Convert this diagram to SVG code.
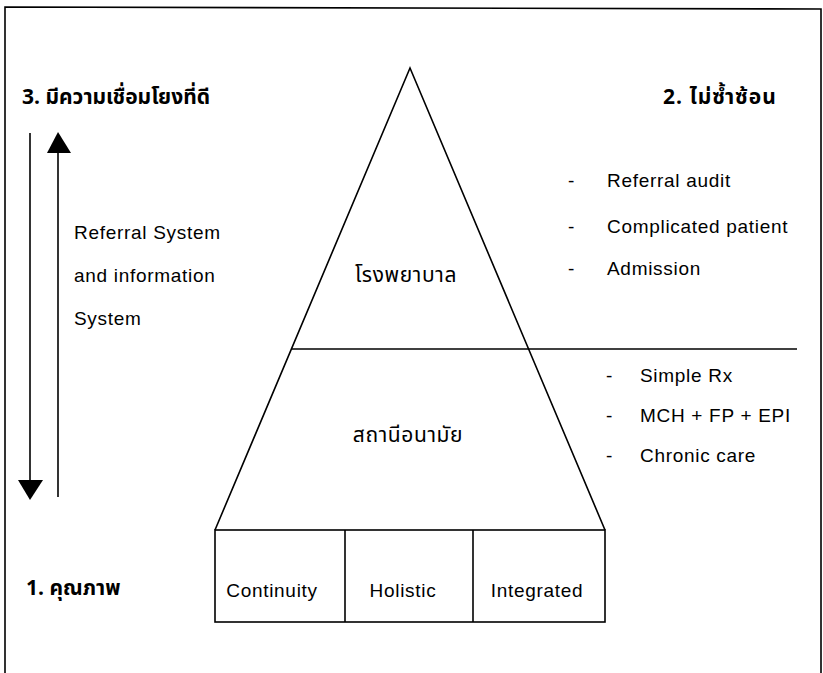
<svg xmlns="http://www.w3.org/2000/svg" width="823" height="673" viewBox="0 0 823 673">
<style>
.ln{fill:none;stroke:#000;stroke-width:1.6}
.t{font-family:"Liberation Sans","Noto Sans Thai","Noto Sans",sans-serif;font-size:19px;letter-spacing:0.7px;fill:#000}
.th{font-family:"Noto Sans Thai","Loma","Garuda","Liberation Sans","Noto Sans",sans-serif;font-size:21px;letter-spacing:0.6px;fill:#000}
.hd{font-family:"Noto Sans Thai","Loma","Garuda","Liberation Sans","Noto Sans",sans-serif;font-size:21px;font-weight:bold;fill:#000}
</style>
<rect width="823" height="673" fill="#fff"/>
<g id="frame"><polyline class="ln" points="5,673 5,7 821,9 821,673"/></g>
<g id="headings">
<text class="hd" x="22" y="104">3. มีความเชื่อมโยงที่ดี</text>
<text class="hd" x="663" y="104" font-size="22" letter-spacing="1">2. ไม่ซ้ำซ้อน</text>
<text class="hd" x="26" y="595">1. คุณภาพ</text>
</g>
<g id="connectors">
<line class="ln" x1="30" y1="133" x2="30" y2="482"/>
<polygon points="18,480 43,480 30,500" fill="#000"/>
<line class="ln" x1="58" y1="150" x2="58" y2="497"/>
<polygon points="47,153 71,153 58,132" fill="#000"/>
</g>
<g id="referral-label">
<text class="t" x="74" y="239">Referral System</text>
<text class="t" x="74" y="282">and information</text>
<text class="t" x="74" y="325">System</text>
</g>
<g id="pyramid">
<polyline class="ln" points="215,530 410,68 605,530"/>
<line class="ln" x1="291" y1="349" x2="797" y2="349"/>
</g>
<g id="hospital"><text class="th" x="406" y="282" text-anchor="middle">โรงพยาบาล</text></g>
<g id="health-station"><text class="th" x="408" y="442" text-anchor="middle">สถานีอนามัย</text></g>
<g id="hospital-list">
<text class="t" x="568" y="187">-</text><text class="t" x="607" y="187">Referral audit</text>
<text class="t" x="568" y="233">-</text><text class="t" x="607" y="233">Complicated patient</text>
<text class="t" x="568" y="275">-</text><text class="t" x="607" y="275">Admission</text>
</g>
<g id="station-list">
<text class="t" x="606" y="382">-</text><text class="t" x="640" y="382">Simple Rx</text>
<text class="t" x="606" y="422">-</text><text class="t" x="640" y="422">MCH + FP + EPI</text>
<text class="t" x="606" y="462">-</text><text class="t" x="640" y="462">Chronic care</text>
</g>
<g id="quality-boxes">
<rect class="ln" x="215" y="530" width="390" height="92"/>
<line class="ln" x1="345" y1="530" x2="345" y2="622"/>
<line class="ln" x1="473" y1="530" x2="473" y2="622"/>
<text class="t" x="272" y="597" text-anchor="middle">Continuity</text>
<text class="t" x="403" y="597" text-anchor="middle">Holistic</text>
<text class="t" x="537" y="597" text-anchor="middle">Integrated</text>
</g>
</svg>
